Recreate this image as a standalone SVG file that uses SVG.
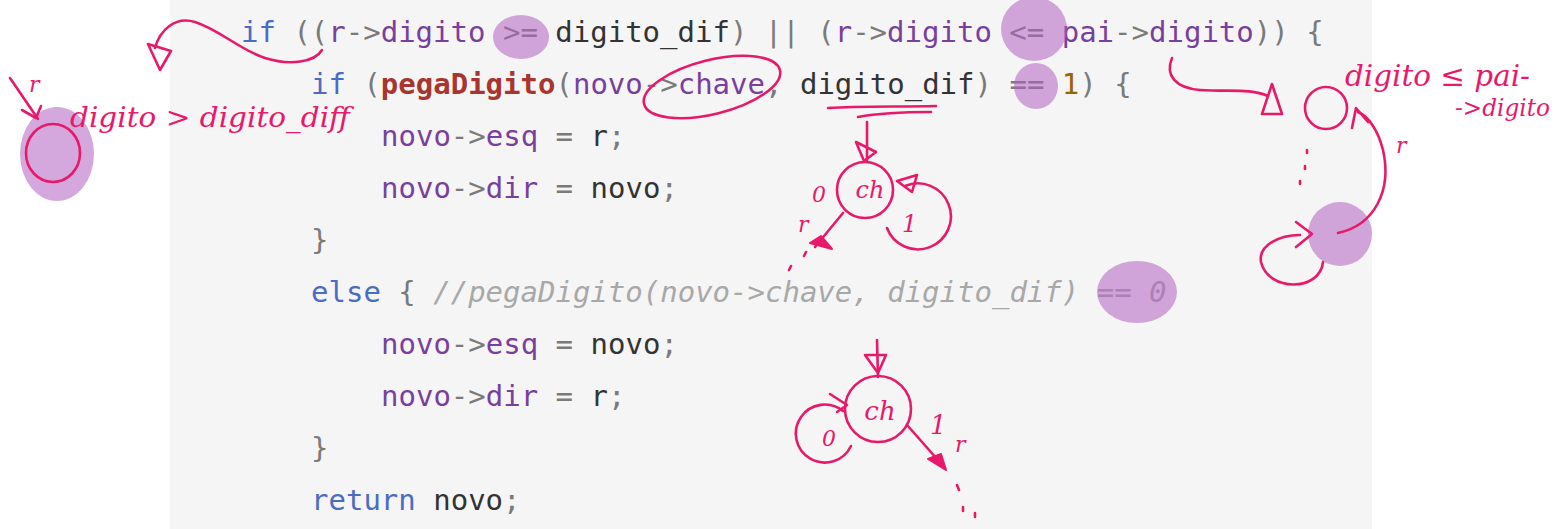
<svg xmlns="http://www.w3.org/2000/svg" width="1558" height="529" viewBox="0 0 1558 529">
<style>
.code{font-family:"DejaVu Sans Mono","Liberation Mono",monospace;font-size:29px;white-space:pre}
.k{fill:#4a6cc4}.p{fill:#7a3f9d}.g{fill:#7a7a7a}.d{fill:#333333}.f{fill:#a8362e;font-weight:bold}.n{fill:#9c6400}
.c{fill:#a8a8a8;font-style:italic}
.hl{fill:#b060c0;fill-opacity:0.55}
.ink{fill:none;stroke:#e8196a;stroke-width:2.6;stroke-linecap:round;stroke-linejoin:round}
.inkf{fill:#e8196a;stroke:#e8196a;stroke-width:2;stroke-linejoin:round}
.hw{font-family:"DejaVu Serif","Liberation Serif",serif;font-style:italic;fill:#e8196a}
</style>
<rect x="0" y="0" width="1558" height="529" fill="#ffffff"/>
<rect x="170" y="0" width="1202" height="529" fill="#f5f5f5"/>
<g id="code" class="code" xml:space="preserve">
<text x="241" y="42"><tspan class="k">if</tspan><tspan class="g"> ((</tspan><tspan class="p">r</tspan><tspan class="g">-&gt;</tspan><tspan class="p">digito</tspan><tspan class="g"> &gt;= </tspan><tspan class="d">digito_dif</tspan><tspan class="g">) || (</tspan><tspan class="p">r</tspan><tspan class="g">-&gt;</tspan><tspan class="p">digito</tspan><tspan class="g"> &lt;= </tspan><tspan class="p">pai</tspan><tspan class="g">-&gt;</tspan><tspan class="p">digito</tspan><tspan class="g">)) {</tspan></text>
<text x="311" y="94"><tspan class="k">if</tspan><tspan class="g"> (</tspan><tspan class="f">pegaDigito</tspan><tspan class="g">(</tspan><tspan class="p">novo</tspan><tspan class="g">-&gt;</tspan><tspan class="p">chave</tspan><tspan class="g">, </tspan><tspan class="d">digito_dif</tspan><tspan class="g">) == </tspan><tspan class="n">1</tspan><tspan class="g">) {</tspan></text>
<text x="381" y="146"><tspan class="p">novo</tspan><tspan class="g">-&gt;</tspan><tspan class="p">esq</tspan><tspan class="g"> = </tspan><tspan class="d">r</tspan><tspan class="g">;</tspan></text>
<text x="381" y="198"><tspan class="p">novo</tspan><tspan class="g">-&gt;</tspan><tspan class="p">dir</tspan><tspan class="g"> = </tspan><tspan class="d">novo</tspan><tspan class="g">;</tspan></text>
<text x="311" y="250" class="g">}</text>
<text x="311" y="302"><tspan class="k">else</tspan><tspan class="g"> { </tspan><tspan class="c">//pegaDigito(novo-&gt;chave, digito_dif) == 0</tspan></text>
<text x="381" y="354"><tspan class="p">novo</tspan><tspan class="g">-&gt;</tspan><tspan class="p">esq</tspan><tspan class="g"> = </tspan><tspan class="d">novo</tspan><tspan class="g">;</tspan></text>
<text x="381" y="406"><tspan class="p">novo</tspan><tspan class="g">-&gt;</tspan><tspan class="p">dir</tspan><tspan class="g"> = </tspan><tspan class="d">r</tspan><tspan class="g">;</tspan></text>
<text x="311" y="458" class="g">}</text>
<text x="311" y="510"><tspan class="k">return</tspan><tspan class="d"> novo</tspan><tspan class="g">;</tspan></text>
</g>
<g id="highlights">
<ellipse class="hl" cx="521" cy="37" rx="28" ry="22"/>
<ellipse class="hl" cx="1034" cy="29" rx="33" ry="32"/>
<ellipse class="hl" cx="1036" cy="86" rx="22" ry="23"/>
<ellipse class="hl" cx="1137" cy="292" rx="40" ry="31"/>
<ellipse class="hl" cx="57" cy="154" rx="37" ry="47"/>
<circle class="hl" cx="1340" cy="234" r="32"/>
</g>
<g id="annot-left">
<path class="ink" d="M322,50 C315,62 290,66 265,58 C240,50 220,30 195,22 C175,16 160,30 155,48"/>
<path class="ink" d="M148,44 L160,70 L171,51 Z"/>
<path class="ink" d="M10,78 L38,119"/>
<path class="ink" d="M22,110 L36,118 L41,106"/>
<text class="hw" x="29" y="92" font-size="22">r</text>
<ellipse class="ink" cx="53" cy="153" rx="27" ry="29"/>
<text class="hw" x="70" y="127" font-size="28" textLength="280" lengthAdjust="spacingAndGlyphs">digito &gt; digito_diff</text>
</g>
<g id="annot-line2">
<ellipse class="ink" cx="712" cy="87" rx="70" ry="27" transform="rotate(-14 712 87)"/>
<path class="ink" d="M828,108 C860,106 900,107 936,106"/>
<path class="ink" d="M858,117 C880,113 905,112 931,112"/>
</g>
<g id="tree-top">
<path class="ink" d="M867,122 L867,160"/>
<path class="ink" d="M856,142 L876,152 L864,161 Z"/>
<circle class="ink" cx="865" cy="190" r="28"/>
<text class="hw" x="870" y="198" font-size="24" text-anchor="middle">ch</text>
<path class="ink" d="M887,228 A33,33 0 1 0 905,186"/>
<path class="ink" d="M897,181 L917,175 L912,192 Z"/>
<text class="hw" x="902" y="232" font-size="24">1</text>
<text class="hw" x="812" y="202" font-size="22">0</text>
<path class="ink" d="M843,213 L815,247"/>
<path class="inkf" d="M810,243 L832,249 L821,236 Z"/>
<text class="hw" x="798" y="232" font-size="22">r</text>
<path class="ink" d="M806,252 L804,256 M791,266 L789,270"/>
</g>
<g id="tree-bottom">
<path class="ink" d="M877,340 L878,377"/>
<path class="ink" d="M865,355 L886,355 L878,373 Z"/>
<circle class="ink" cx="878" cy="409" r="33"/>
<text class="hw" x="880" y="420" font-size="26" text-anchor="middle">ch</text>
<path class="ink" d="M843,411 A29,29 0 1 0 851,446"/>
<path class="ink" d="M830,394 L847,405 L837,412"/>
<text class="hw" x="822" y="446" font-size="22">0</text>
<path class="ink" d="M907,425 L945,468"/>
<path class="inkf" d="M928,459 L946,470 L941,454 Z"/>
<text class="hw" x="930" y="434" font-size="26">1</text>
<text class="hw" x="955" y="452" font-size="22">r</text>
<path class="ink" d="M957,485 L959,490 M963,507 L963,511 M975,513 L975,517"/>
</g>
<g id="annot-right">
<path class="ink" d="M1172,58 C1165,75 1175,88 1200,90 C1230,92 1250,88 1268,96"/>
<path class="ink" d="M1262,114 L1282,114 L1272,84 Z"/>
<circle class="ink" cx="1326" cy="108" r="21"/>
<path class="ink" d="M1338,233 C1375,225 1392,190 1383,150 C1378,130 1368,116 1358,112"/>
<path class="ink" d="M1352,128 L1356,108 L1368,122"/>
<text class="hw" x="1396" y="153" font-size="22">r</text>
<path class="ink" d="M1307,150 L1307,153 M1305,166 L1305,169 M1300,181 L1300,184"/>
<path class="ink" d="M1323,262 C1320,292 1268,292 1261,262 C1258,245 1280,235 1300,235"/>
<path class="ink" d="M1296,222 L1312,234 L1296,247"/>
<text class="hw" x="1345" y="86" font-size="30" textLength="185" lengthAdjust="spacingAndGlyphs">digito ≤ pai-</text>
<text class="hw" x="1455" y="116" font-size="24" textLength="95" lengthAdjust="spacingAndGlyphs">-&gt;digito</text>
</g>
</svg>
